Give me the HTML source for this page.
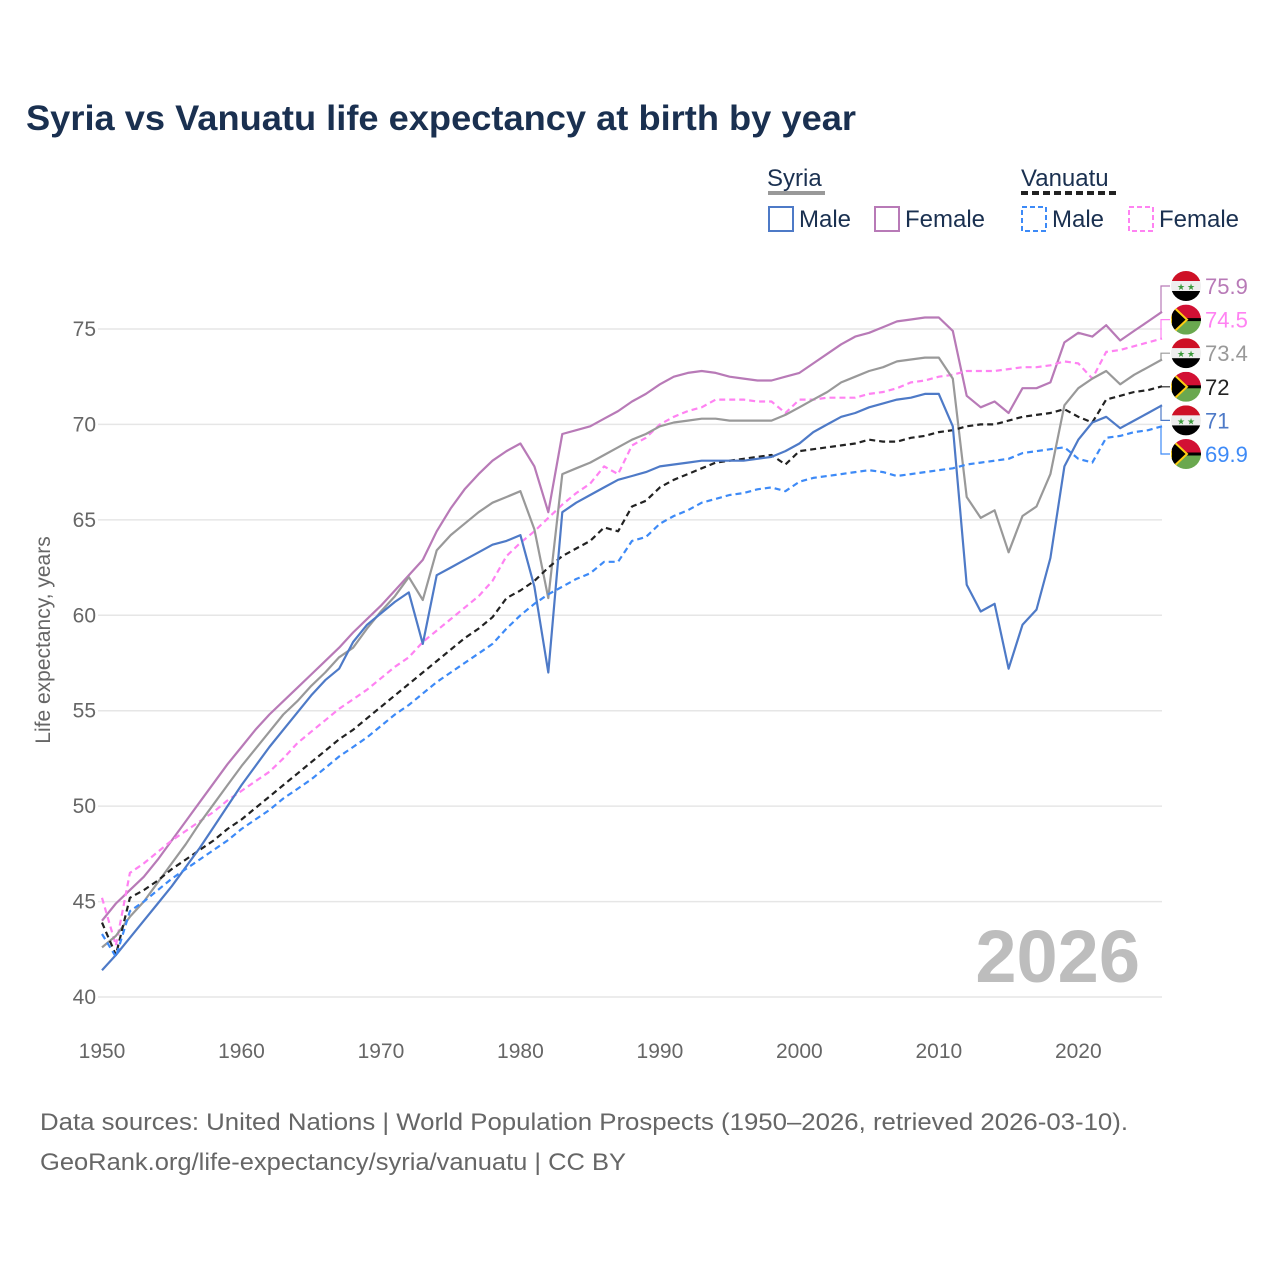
<!DOCTYPE html>
<html><head><meta charset="utf-8"><style>
body{margin:0;background:#fff;width:1280px;height:1280px;overflow:hidden;font-family:"Liberation Sans",sans-serif}
</style></head><body>
<svg id="chart" width="1280" height="1280" xmlns="http://www.w3.org/2000/svg" font-family="Liberation Sans, sans-serif">
<text x="26" y="130" font-size="35" font-weight="bold" fill="#1a3050" textLength="830" lengthAdjust="spacingAndGlyphs">Syria vs Vanuatu life expectancy at birth by year</text>
<g fill="#1a3050" font-size="24">
<text x="767" y="186">Syria</text>
<line x1="768" y1="193" x2="825" y2="193" stroke="#999" stroke-width="4"/>
<text x="1021" y="186">Vanuatu</text>
<line x1="1021" y1="193" x2="1116" y2="193" stroke="#222" stroke-width="4" stroke-dasharray="7,4"/>
<rect x="769" y="207" width="24" height="24" fill="none" stroke="#4e7ac7" stroke-width="2"/>
<text x="799" y="227">Male</text>
<rect x="875" y="207" width="24" height="24" fill="none" stroke="#b87ab7" stroke-width="2"/>
<text x="905" y="227">Female</text>
<rect x="1022" y="207" width="24" height="24" fill="none" stroke="#3d8af7" stroke-width="2" stroke-dasharray="5,3"/>
<text x="1052" y="227">Male</text>
<rect x="1129" y="207" width="24" height="24" fill="none" stroke="#ff82f2" stroke-width="2" stroke-dasharray="5,3"/>
<text x="1159" y="227">Female</text>
</g>
<g id="grid"></g>
<text x="1140" y="982" text-anchor="end" font-size="74" font-weight="bold" fill="#bdbdbd">2026</text>
<g id="lines"></g>
<g id="labels"></g>
<text transform="translate(50,640) rotate(-90)" text-anchor="middle" font-size="21" fill="#666">Life expectancy, years</text>
<text x="40" y="1130" font-size="24" fill="#666" textLength="1088" lengthAdjust="spacingAndGlyphs">Data sources: United Nations | World Population Prospects (1950–2026, retrieved 2026-03-10).</text>
<text x="40" y="1170" font-size="24" fill="#666" textLength="586" lengthAdjust="spacingAndGlyphs">GeoRank.org/life-expectancy/syria/vanuatu | CC BY</text>
</svg>
<script>
const startYear = 1950;
const endYear = 2026;
const yTicks = [40,45,50,55,60,65,70,75];
const xTicks = [1950,1960,1970,1980,1990,2000,2010,2020];
const syriaFemale = [44.0,44.9,45.6,46.3,47.2,48.2,49.2,50.2,51.2,52.2,53.1,54.0,54.8,55.5,56.2,56.9,57.6,58.3,59.1,59.8,60.5,61.3,62.1,62.9,64.4,65.6,66.6,67.4,68.1,68.6,69.0,67.8,65.4,69.5,69.7,69.9,70.3,70.7,71.2,71.6,72.1,72.5,72.7,72.8,72.7,72.5,72.4,72.3,72.3,72.5,72.7,73.2,73.7,74.2,74.6,74.8,75.1,75.4,75.5,75.6,75.6,74.9,71.5,70.9,71.2,70.6,71.9,71.9,72.2,74.3,74.8,74.6,75.2,74.4,74.9,75.4,75.9];
const syriaTotal = [42.6,43.2,44.2,45.0,46.0,47.0,48.0,49.1,50.1,51.1,52.1,53.0,53.9,54.8,55.5,56.3,57.0,57.8,58.3,59.3,60.2,61.0,62.0,60.8,63.4,64.2,64.8,65.4,65.9,66.2,66.5,64.5,60.9,67.4,67.7,68.0,68.4,68.8,69.2,69.5,69.9,70.1,70.2,70.3,70.3,70.2,70.2,70.2,70.2,70.5,70.9,71.3,71.7,72.2,72.5,72.8,73.0,73.3,73.4,73.5,73.5,72.4,66.2,65.1,65.5,63.3,65.2,65.7,67.4,71.0,71.9,72.4,72.8,72.1,72.6,73.0,73.4];
const syriaMale = [41.4,42.2,43.1,44.0,44.9,45.8,46.8,47.8,48.9,50.0,51.1,52.1,53.1,54.0,54.9,55.8,56.6,57.2,58.6,59.5,60.1,60.7,61.2,58.5,62.1,62.5,62.9,63.3,63.7,63.9,64.2,61.5,57.0,65.4,65.9,66.3,66.7,67.1,67.3,67.5,67.8,67.9,68.0,68.1,68.1,68.1,68.1,68.2,68.3,68.6,69.0,69.6,70.0,70.4,70.6,70.9,71.1,71.3,71.4,71.6,71.6,69.9,61.6,60.2,60.6,57.2,59.5,60.3,63.0,67.8,69.2,70.1,70.4,69.8,70.2,70.6,71.0];
const vanuatuFemale = [45.2,42.7,46.5,47.0,47.6,48.2,48.7,49.2,49.7,50.3,50.8,51.3,51.8,52.5,53.3,53.9,54.5,55.1,55.6,56.1,56.7,57.3,57.8,58.6,59.2,59.8,60.4,61.0,61.8,63.1,63.8,64.4,65.1,65.8,66.4,66.9,67.8,67.4,68.9,69.3,70.0,70.4,70.7,70.9,71.3,71.3,71.3,71.2,71.2,70.6,71.3,71.3,71.4,71.4,71.4,71.6,71.7,71.9,72.2,72.3,72.5,72.6,72.8,72.8,72.8,72.9,73.0,73.0,73.1,73.3,73.2,72.4,73.8,73.9,74.1,74.3,74.5];
const vanuatuTotal = [43.9,42.2,45.2,45.6,46.1,46.7,47.2,47.7,48.2,48.8,49.3,49.9,50.5,51.1,51.7,52.3,52.9,53.5,54.0,54.6,55.2,55.8,56.4,57.0,57.6,58.2,58.8,59.3,59.9,60.9,61.3,61.8,62.5,63.1,63.5,63.9,64.6,64.4,65.7,66.0,66.7,67.1,67.4,67.7,68.0,68.1,68.2,68.3,68.4,67.9,68.6,68.7,68.8,68.9,69.0,69.2,69.1,69.1,69.3,69.4,69.6,69.7,69.9,70.0,70.0,70.2,70.4,70.5,70.6,70.8,70.4,70.1,71.3,71.5,71.7,71.8,72.0];
const vanuatuMale = [43.3,42.1,44.5,45.0,45.6,46.2,46.7,47.2,47.7,48.2,48.8,49.3,49.8,50.4,50.9,51.4,52.0,52.6,53.1,53.6,54.2,54.8,55.3,55.9,56.5,57.0,57.5,58.0,58.5,59.3,60.0,60.6,61.1,61.5,61.9,62.2,62.8,62.8,63.9,64.1,64.8,65.2,65.5,65.9,66.1,66.3,66.4,66.6,66.7,66.5,67.0,67.2,67.3,67.4,67.5,67.6,67.5,67.3,67.4,67.5,67.6,67.7,67.9,68.0,68.1,68.2,68.5,68.6,68.7,68.8,68.2,68.0,69.3,69.4,69.6,69.7,69.9];

const NS='http://www.w3.org/2000/svg';
const X0=102,X1=1162,Y0=997,Y75=329;
function xScale(yr){return X0+(yr-startYear)*(X1-X0)/(endYear-startYear);}
function yScale(v){return Y0-(v-40)*(Y0-Y75)/35;}
function mk(tag,attrs,parent){const e=document.createElementNS(NS,tag);for(const k in attrs)e.setAttribute(k,attrs[k]);parent.appendChild(e);return e;}

const grid=document.getElementById('grid');
yTicks.forEach(t=>{
  const l=mk('line',{x1:98,x2:X1,y1:yScale(t),y2:yScale(t),stroke:'#e6e6e6','stroke-width':1.5},grid);
  
  
  const tx=mk('text',{x:96,y:yScale(t)+7,'text-anchor':'end','font-size':21,fill:'#666'},grid);
  tx.textContent=t;
  
  
});
xTicks.forEach(t=>{
  const tx=mk('text',{x:xScale(t),y:1058,'text-anchor':'middle','font-size':21,fill:'#666'},grid);
  tx.textContent=t;
  
  
});

const series=[
 {name:'syria-female',d:syriaFemale,c:'#b87ab7',dash:null,flag:'sy'},
 {name:'vanuatu-female',d:vanuatuFemale,c:'#ff82f2',dash:'6,4',flag:'vu'},
 {name:'syria-total',d:syriaTotal,c:'#999999',dash:null,flag:'sy'},
 {name:'vanuatu-total',d:vanuatuTotal,c:'#222222',dash:'6,4',flag:'vu'},
 {name:'syria-male',d:syriaMale,c:'#4e7ac7',dash:null,flag:'sy'},
 {name:'vanuatu-male',d:vanuatuMale,c:'#3d8af7',dash:'6,4',flag:'vu'}
];
const lines=document.getElementById('lines');
const labels=document.getElementById('labels');
series.forEach((s,i)=>{
  const pts=s.d.map((v,k)=>xScale(startYear+k).toFixed(1)+','+yScale(v).toFixed(1)).join(' ');
  const a={points:pts,fill:'none',stroke:s.c,'stroke-width':2.2,'stroke-linejoin':'round'};
  if(s.dash)a['stroke-dasharray']=s.dash;
  const p=mk('polyline',a,lines);
  
  
  const ly=286+i*33.6;
  const ey=yScale(s.d[s.d.length-1]);
  const lastX=xScale(startYear+s.d.length-1);
  const cn=mk('polyline',{points:`${lastX},${ey} 1161,${ey} 1161,${ly} 1170,${ly}`,fill:'none',stroke:s.c,'stroke-width':1.2},labels);
  
  
  const g=mk('g',{},labels);
  
  
  const cx=1186,r=15;
  const cp=mk('clipPath',{id:'cp'+i},g);
  mk('circle',{cx:cx,cy:ly,r:r},cp);
  const fg=mk('g',{'clip-path':'url(#cp'+i+')'},g);
  if(s.flag==='sy'){
    mk('rect',{x:cx-r,y:ly-r,width:30,height:10,fill:'#ce1126'},fg);
    mk('rect',{x:cx-r,y:ly-5,width:30,height:10,fill:'#eee'},fg);
    mk('rect',{x:cx-r,y:ly+5,width:30,height:10,fill:'#000'},fg);
    const st1=mk('text',{x:cx-5,y:ly+4,'font-size':9,fill:'#3a9a3a','text-anchor':'middle'},fg);st1.textContent='★';
    const st2=mk('text',{x:cx+5,y:ly+4,'font-size':9,fill:'#3a9a3a','text-anchor':'middle'},fg);st2.textContent='★';
  }else{
    mk('rect',{x:cx-r,y:ly-r,width:30,height:15,fill:'#d21034'},fg);
    mk('rect',{x:cx-r,y:ly,width:30,height:15,fill:'#6aa84f'},fg);
    mk('rect',{x:cx-r,y:ly-1.5,width:30,height:3,fill:'#000'},fg);
    mk('polygon',{points:`${cx-r},${ly-r} ${cx+1},${ly} ${cx-r},${ly+r}`,fill:'#000',stroke:'#fdce12','stroke-width':2},fg);
  }
  const t=mk('text',{x:1205,y:ly+8,'font-size':22,fill:s.c},labels);
  t.textContent=s.d[s.d.length-1];
  
  
});
</script>
</body></html>
